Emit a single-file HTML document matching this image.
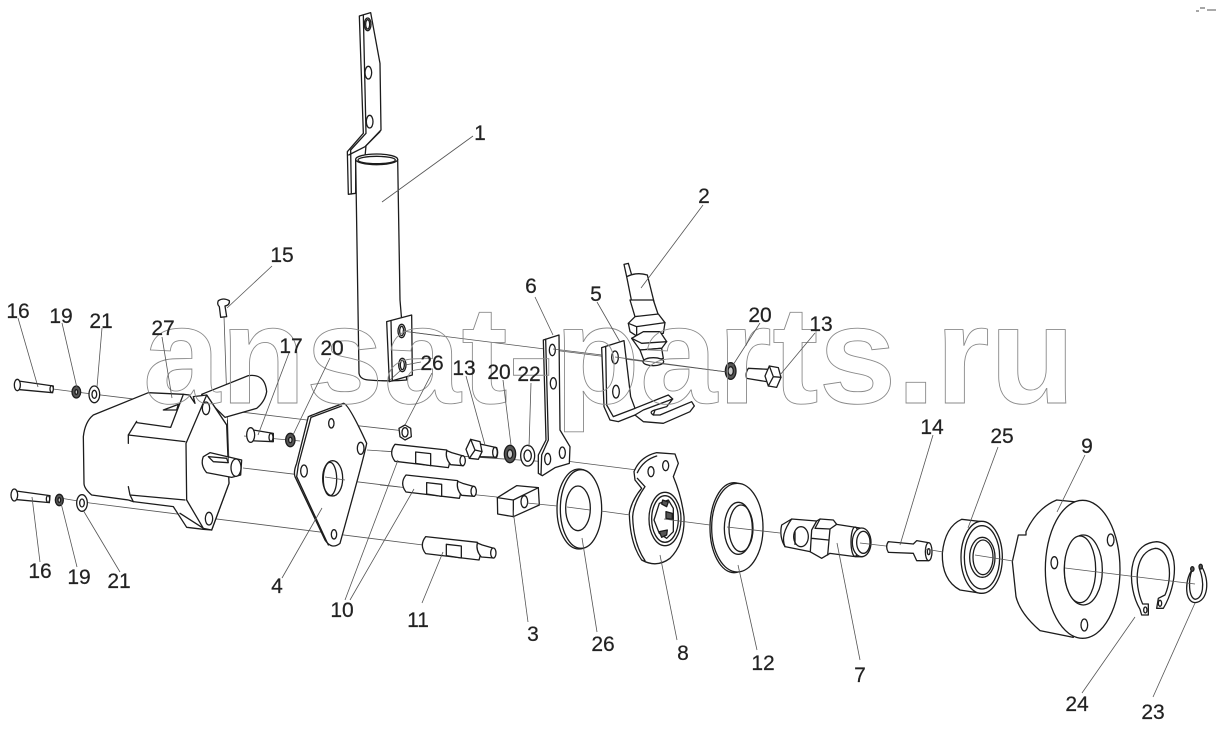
<!DOCTYPE html>
<html><head><meta charset="utf-8"><style>
html,body{margin:0;padding:0;background:#fff;width:1218px;height:729px;overflow:hidden}
svg{display:block}
.p *{vector-effect:non-scaling-stroke}
.p{fill:#fff;stroke:#1c1c1c;stroke-width:1.3;stroke-linejoin:round;stroke-linecap:round}
.n{fill:none}
.d{fill:#555}
.l line{stroke:#555;stroke-width:.8}
text.lb{font-family:"Liberation Sans",sans-serif;font-size:21px;fill:#222;stroke:#222;stroke-width:.2;text-anchor:middle}
</style></head><body>
<svg width="1218" height="729" viewBox="0 0 1218 729" xmlns="http://www.w3.org/2000/svg">
<rect width="1218" height="729" fill="#fff"/>

<!-- axis lines under parts -->
<g class="l">
<line x1="53" y1="389" x2="76" y2="392"/><line x1="76" y1="392" x2="307" y2="420"/><line x1="307" y1="420" x2="405" y2="431"/>
<line x1="243" y1="468" x2="400" y2="487"/><line x1="380" y1="485" x2="497" y2="497"/>
<line x1="60" y1="498" x2="90" y2="503"/><line x1="90" y1="503" x2="423" y2="545"/>
<line x1="224" y1="316" x2="229" y2="462"/>
<line x1="402" y1="331" x2="727" y2="372"/>
<line x1="367" y1="450" x2="550" y2="462"/>
<line x1="550" y1="459" x2="637" y2="470"/>
<line x1="244" y1="436" x2="300" y2="441"/>
</g>

<!-- Zoom 2 region: strip, tube, sensor top -->
<g class="p" transform="translate(330,0) scale(.33333)">
<path d="M88,48 L122,38 L150,190 L153,390 L108,437 L105,470 L77,480 L77,580 L55,583 L52,455 L100,400 Z"/>
<path class="n" d="M100,46 L108,400 L62,450 L64,582"/>
<path class="n" d="M56,465 L105,440 L150,395"/>
<ellipse cx="113" cy="73" rx="10" ry="19"/><ellipse cx="113" cy="73" rx="6" ry="14" class="n"/>
<ellipse cx="115" cy="218" rx="10" ry="19"/>
<ellipse cx="119" cy="365" rx="10" ry="19"/>
<path d="M77,478 L87,1120 Q90,1138 115,1140 Q180,1145 230,1140 L210,900 L203,478 Z"/>
<ellipse cx="140" cy="478" rx="63" ry="16"/><ellipse cx="140" cy="480" rx="56" ry="11"/>
<path d="M882,793 L895,790 L905,825 L890,830 Z"/>
<path d="M890,830 Q920,815 952,825 L972,905 L905,905 Z"/>
</g>

<!-- Zoom 1 region: bolts, motor, plate -->
<g class="p" transform="translate(0,280) scale(.33333)">
<path d="M48,302 L160,318 L158,338 L48,328 Z"/><ellipse cx="52" cy="315" rx="9" ry="17"/><ellipse cx="155" cy="327" rx="5" ry="10"/>
<ellipse cx="229" cy="336" rx="13" ry="18" class="d"/><ellipse cx="229" cy="336" rx="4" ry="7" fill="#ccc"/>
<ellipse cx="283" cy="343" rx="16" ry="25"/><ellipse cx="283" cy="343" rx="7" ry="12"/>
<path d="M40,632 L150,647 L148,668 L40,658 Z"/><ellipse cx="43" cy="645" rx="10" ry="18"/><ellipse cx="144" cy="657" rx="5" ry="10"/>
<ellipse cx="178" cy="660" rx="12" ry="17" class="d"/><ellipse cx="178" cy="660" rx="4" ry="7" fill="#ccc"/>
<ellipse cx="246" cy="669" rx="16" ry="25"/><ellipse cx="246" cy="669" rx="7" ry="12"/>
<!-- rear cylinder -->
<path d="M605,343 L745,287 Q795,280 800,335 Q795,365 770,385 L675,412 Z"/>
<!-- motor body -->
<path d="M250,470 Q255,425 280,405 L445,338 L550,343 L568,345 L585,370 L580,350 L605,347 L620,345 L680,435 L687,610 L635,750 L610,748 L560,742 L520,680 L400,665 L385,660 L275,645 Q252,625 252,610 Z"/>
<path class="n" d="M410,424 L385,465 L385,490"/>
<path class="n" d="M410,428 L512,442 L550,343"/>
<path class="n" d="M385,465 L555,485"/>
<path class="n" d="M385,620 L390,645 L400,665 M390,645 L555,660"/>
<path class="n" d="M540,700 L615,748"/>
<path d="M620,345 L680,435 L687,610 L635,750 L610,745 L560,660 L558,490 Z"/>
<path class="n" d="M490,390 L535,373 L530,390 Z"/>
<ellipse cx="618" cy="385" rx="11" ry="19"/><ellipse cx="627" cy="716" rx="11" ry="19"/>
<path d="M610,530 L630,518 L725,540 L722,585 L695,592 L620,578 Q600,555 610,530 Z"/>
<path class="n" d="M625,530 L680,535 L685,548 L640,545 Z"/>
<ellipse cx="708" cy="563" rx="15" ry="26"/>
<path class="n" d="M682,420 L685,545" stroke-width=".8"/>
<path d="M655,62 Q670,52 688,62 Q690,75 675,78 L680,110 L662,112 L658,80 Q650,72 655,62 Z"/>
<!-- bolt 17 -->
<path d="M748,448 L820,460 L820,485 L748,482 Z"/><ellipse cx="752" cy="465" rx="12" ry="22"/><ellipse cx="813" cy="472" rx="6" ry="12"/>
<ellipse cx="871" cy="480" rx="14" ry="20" class="d"/><ellipse cx="871" cy="480" rx="5" ry="8" fill="#ccc"/>
<!-- plate 4 -->
<path d="M925,410 Q935,405 1030,370 Q1045,370 1100,490 Q1095,520 1020,790 Q995,810 975,780 L885,590 Q880,575 890,550 Z"/>
<path class="n" d="M933,412 L1025,378 M933,412 L895,555 L890,590 L985,795"/>
<ellipse cx="994" cy="430" rx="8" ry="14"/><ellipse cx="1082" cy="505" rx="10" ry="18"/><ellipse cx="912" cy="573" rx="10" ry="18"/><ellipse cx="1002" cy="763" rx="8" ry="14"/>
<ellipse cx="998" cy="595" rx="30" ry="53"/><ellipse cx="990" cy="597" rx="20" ry="50" class="n"/>
</g>

<!-- Zoom 3 region -->
<g class="p" transform="translate(380,300) scale(.33333)">
<!-- plate on tube -->
<path d="M20,65 L95,45 L97,225 L28,245 Z"/><path class="n" d="M33,62 L37,243"/>
<ellipse cx="65" cy="93" rx="11" ry="20"/><ellipse cx="65" cy="93" rx="6" ry="14" class="n"/>
<ellipse cx="67" cy="195" rx="11" ry="20"/><ellipse cx="67" cy="195" rx="6" ry="14" class="n"/>
<!-- nut 26 -->
<path d="M75,375 L92,385 L94,410 L75,420 L60,410 L57,385 Z"/><ellipse cx="75" cy="397" rx="9" ry="14"/>
<!-- pins -->
<g><path d="M45,433 L200,450 Q215,475 205,503 L45,484 Q25,458 45,433 Z"/><path d="M200,452 L215,458 L250,468 Q258,482 250,497 L212,494 Q195,475 200,452 Z"/><ellipse cx="248" cy="482" rx="8" ry="15"/><path d="M107,456 L152,461 L152,497 L107,490 Z"/></g>
<g transform="translate(33,92)"><path d="M45,433 L200,450 Q215,475 205,503 L45,484 Q25,458 45,433 Z"/><path d="M200,452 L215,458 L250,468 Q258,482 250,497 L212,494 Q195,475 200,452 Z"/><ellipse cx="248" cy="482" rx="8" ry="15"/><path d="M107,456 L152,461 L152,497 L107,490 Z"/></g>
<g transform="translate(92,277)"><path d="M45,433 L200,450 Q215,475 205,503 L45,484 Q25,458 45,433 Z"/><path d="M200,452 L215,458 L250,468 Q258,482 250,497 L212,494 Q195,475 200,452 Z"/><ellipse cx="248" cy="482" rx="8" ry="15"/><path d="M107,456 L152,461 L152,497 L107,490 Z"/></g>
<!-- bolt 13 -->
<path d="M300,432 L350,443 Q356,458 350,472 L300,470 Z"/><ellipse cx="345" cy="457" rx="7" ry="15"/>
<path d="M272,418 L300,425 L306,455 L295,478 L268,475 L258,448 Z"/><path class="n" d="M272,418 L285,450 L268,475 M285,450 L306,455"/>
<ellipse cx="390" cy="462" rx="17" ry="26" class="d"/><ellipse cx="390" cy="462" rx="8" ry="13" fill="#ccc"/>
<ellipse cx="443" cy="467" rx="21" ry="31"/><ellipse cx="443" cy="467" rx="11" ry="17"/>
<!-- part 6 -->
<path d="M490,120 L537,105 L540,390 L570,440 L568,490 L525,503 L487,527 L475,520 L475,465 L498,420 Z"/>
<path class="n" d="M497,118 L505,420 L485,465 L483,525"/>
<ellipse cx="517" cy="150" rx="9" ry="17"/><ellipse cx="520" cy="250" rx="9" ry="17"/><ellipse cx="503" cy="477" rx="9" ry="17"/><ellipse cx="547" cy="458" rx="9" ry="17"/>
<!-- sensor -->
<path d="M750,0 L765,50 L835,45 L820,0 Z"/>
<path d="M745,70 L765,50 L835,42 L855,68 L850,100 L770,108 L750,95 Z"/><path class="n" d="M745,70 L770,80 L855,68 M770,80 L770,108"/>
<path d="M755,115 L790,95 L840,95 L860,125 L845,145 L780,150 Z"/><path class="n" d="M755,115 L785,130 L860,125"/>
<path d="M780,150 L795,190 L850,175 L845,145 Z"/><ellipse cx="820" cy="185" rx="31" ry="12"/>
<!-- bracket 5 -->
<path d="M665,143 L732,122 L752,290 L765,325 L865,285 L878,297 L860,320 L825,330 L820,345 L840,345 L935,305 L943,318 L930,335 L850,370 L790,365 L765,345 L715,365 L690,360 L672,320 Z"/>
<path class="n" d="M677,141 L680,315 L700,350 L765,325 M765,345 L790,330 L878,297 M820,345 Q805,335 825,330"/>
<ellipse cx="705" cy="172" rx="10" ry="19"/><ellipse cx="708" cy="275" rx="10" ry="19"/>
<!-- nut and bolt right -->
<ellipse cx="1052" cy="213" rx="16" ry="25" class="d"/><ellipse cx="1052" cy="213" rx="8" ry="13" fill="#ccc"/>
<path d="M1105,205 L1165,208 L1160,245 L1100,235 Q1095,220 1105,205 Z"/>
<path d="M1168,198 L1195,203 L1203,232 L1190,262 L1165,258 L1155,228 Z"/><path class="n" d="M1168,198 L1180,230 L1165,258 M1180,230 L1203,232"/>
<!-- block 3 -->
<path d="M352,593 L410,557 L475,563 L478,615 L400,650 L353,642 Z"/>
<path class="n" d="M352,593 L400,600 L475,563 M400,600 L400,650"/>
<ellipse cx="433" cy="605" rx="10" ry="18"/>
<!-- washer 26 -->
<ellipse cx="597" cy="627" rx="66" ry="120"/><ellipse cx="603" cy="627" rx="62" ry="118"/>
<ellipse cx="594" cy="625" rx="37" ry="67"/>
<!-- part 8 -->
<path d="M762,515 Q780,470 830,458 L885,462 L895,490 L880,530 Q905,590 912,650 Q915,730 870,775 Q830,805 785,780 Q750,730 748,640 Q755,600 785,565 L765,540 Z"/>
<path class="n" d="M772,518 Q790,480 830,468 M795,560 L772,535 M795,560 Q760,610 758,650 Q760,730 795,782"/>
<ellipse cx="813" cy="515" rx="9" ry="15"/><ellipse cx="857" cy="497" rx="9" ry="15"/>
<ellipse cx="855" cy="657" rx="48" ry="80"/><ellipse cx="855" cy="657" rx="40" ry="70"/>
<path d="M838,610 L865,600 L880,625 L880,695 L860,715 L838,700 L822,660 Z"/>
<path class="d" fill="#777" d="M848,600 L865,606 L860,620 L845,612 Z M858,635 L877,640 L877,658 L858,655 Z M838,695 L862,690 L860,705 L845,712 Z"/>
<!-- washer 12 -->
<ellipse cx="1062" cy="683" rx="72" ry="135"/><ellipse cx="1072" cy="683" rx="77" ry="133"/>
<ellipse cx="1075" cy="685" rx="42" ry="78"/><ellipse cx="1083" cy="685" rx="36" ry="70" class="n"/>
</g>

<!-- part 7 -->
<g class="p" transform="translate(775,505) scale(.33333)">
<path d="M20,60 L50,42 L125,48 L135,42 L175,45 L185,58 L262,70 L262,155 L240,155 L165,145 L140,160 L105,140 L30,125 Q12,95 20,60 Z"/>
<path class="n" d="M30,125 Q15,90 50,42 M125,48 L110,75 L106,140 M135,42 L120,70 L165,72 L185,58 M165,72 L158,150 M110,100 L160,105"/>
<ellipse cx="78" cy="95" rx="22" ry="30"/><path class="n" d="M60,80 L60,118"/>
<ellipse cx="240" cy="110" rx="12" ry="44" class="n"/><ellipse cx="260" cy="112" rx="28" ry="43"/><ellipse cx="265" cy="112" rx="20" ry="33"/>
</g>

<!-- Zoom 4 region -->
<g class="p" transform="translate(780,420) scale(.33333)">
<!-- screw 14 -->
<path d="M325,365 L400,372 L410,362 L445,368 L445,422 L410,422 L400,400 L325,397 Q315,380 325,365 Z"/>
<ellipse cx="446" cy="395" rx="10" ry="27"/><ellipse cx="446" cy="395" rx="4" ry="9"/>
<!-- bearing 25 -->
<path d="M545,298 L605,305 L605,520 L540,510 Q485,480 487,400 Q495,320 545,298 Z"/>
<ellipse cx="605" cy="412" rx="62" ry="108"/><ellipse cx="606" cy="412" rx="53" ry="95"/>
<ellipse cx="607" cy="412" rx="38" ry="60"/><ellipse cx="609" cy="412" rx="30" ry="52"/>
<!-- part 9 -->
<path d="M738,345 L738,335 Q770,265 830,240 L930,250 L880,652 L780,632 Q720,580 708,530 L697,425 L715,345 Z"/>
<ellipse cx="908" cy="448" rx="112" ry="207"/>
<ellipse cx="910" cy="450" rx="57" ry="105"/><ellipse cx="900" cy="448" rx="47" ry="100"/>
<ellipse cx="992" cy="360" rx="10" ry="18"/><ellipse cx="823" cy="428" rx="10" ry="18"/><ellipse cx="913" cy="615" rx="10" ry="18"/>
<!-- ring 24 -->
<path d="M1080,568 C1040,500 1040,370 1130,365 C1200,370 1195,490 1150,565 L1130,565 L1135,535 L1155,525 C1180,470 1170,385 1125,385 C1065,395 1060,490 1088,552 L1105,552 L1105,585 L1085,585 Z" />
<ellipse cx="1096" cy="570" rx="5" ry="9"/><ellipse cx="1140" cy="550" rx="5" ry="9"/>
<!-- ring 23 -->
<path class="n" d="M1240,445 C1215,470 1210,545 1245,548 C1285,545 1290,480 1265,440 M1236,450 C1225,480 1225,530 1245,538 C1270,535 1275,490 1258,445"/>
<ellipse cx="1237" cy="447" rx="5" ry="7" fill="#555"/><ellipse cx="1262" cy="440" rx="5" ry="7" fill="#555"/>
</g>

<!-- axis lines on top (through holes) -->
<g class="l">
<line x1="527" y1="503" x2="557" y2="506"/><line x1="567" y1="507" x2="590" y2="510"/><line x1="601" y1="511" x2="630" y2="515"/>
<line x1="664" y1="519" x2="710" y2="525"/><line x1="727" y1="527" x2="780" y2="533"/><line x1="860" y1="543" x2="886" y2="546"/>
<line x1="925" y1="549" x2="943" y2="552"/><line x1="975" y1="555" x2="1013" y2="561"/><line x1="1065" y1="568" x2="1195" y2="584"/>
<line x1="402" y1="331" x2="440" y2="336"/>
<line x1="553" y1="349" x2="602" y2="355"/><line x1="615" y1="357" x2="727" y2="372"/>
<line x1="325" y1="477" x2="345" y2="480"/>
</g>

<!-- watermark -->
<text x="143" y="403" font-family="Liberation Sans, sans-serif" font-weight="bold" font-size="139" fill="none" stroke="#8a8a8a" stroke-width=".9" textLength="932" lengthAdjust="spacing">ansat-parts.ru</text>

<!-- leaders -->
<g class="l">
<line x1="473" y1="136" x2="382" y2="202"/><line x1="703" y1="205" x2="641" y2="288"/><line x1="272" y1="266" x2="227" y2="308"/>
<line x1="535" y1="297" x2="553" y2="335"/><line x1="597" y1="302" x2="620" y2="342"/>
<line x1="18" y1="318" x2="38" y2="387"/><line x1="62" y1="323" x2="77" y2="388"/><line x1="102" y1="328" x2="97" y2="387"/>
<line x1="162" y1="337" x2="172" y2="398"/><line x1="289" y1="353" x2="258" y2="435"/><line x1="330" y1="358" x2="293" y2="435"/>
<line x1="432" y1="373" x2="405" y2="425"/><line x1="421" y1="362" x2="405" y2="365"/><line x1="400" y1="371" x2="390" y2="380"/>
<line x1="466" y1="376" x2="485" y2="445"/><line x1="503" y1="380" x2="511" y2="445"/><line x1="531" y1="383" x2="529" y2="447"/>
<line x1="760" y1="323" x2="733" y2="365"/><line x1="815" y1="333" x2="780" y2="375"/>
<line x1="933" y1="435" x2="900" y2="545"/><line x1="998" y1="447" x2="968" y2="528"/><line x1="1085" y1="455" x2="1057" y2="512"/>
<line x1="32" y1="497" x2="40" y2="562"/><line x1="61" y1="503" x2="77" y2="567"/><line x1="83" y1="510" x2="120" y2="572"/>
<line x1="322" y1="508" x2="282" y2="578"/><line x1="345" y1="600" x2="398" y2="460"/><line x1="350" y1="600" x2="414" y2="489"/>
<line x1="443" y1="552" x2="422" y2="603"/><line x1="513" y1="510" x2="528" y2="622"/><line x1="582" y1="538" x2="597" y2="632"/>
<line x1="660" y1="555" x2="677" y2="640"/><line x1="738" y1="565" x2="757" y2="650"/><line x1="837" y1="543" x2="860" y2="660"/>
<line x1="1135" y1="617" x2="1082" y2="693"/><line x1="1195" y1="603" x2="1153" y2="697"/>
</g>

<!-- labels -->
<g>
<text class="lb" x="480" y="140">1</text><text class="lb" x="704" y="203">2</text><text class="lb" x="282" y="262">15</text>
<text class="lb" x="531" y="293">6</text><text class="lb" x="596" y="301">5</text><text class="lb" x="18" y="318">16</text>
<text class="lb" x="61" y="323">19</text><text class="lb" x="101" y="328">21</text><text class="lb" x="163" y="335">27</text>
<text class="lb" x="291" y="353">17</text><text class="lb" x="332" y="355">20</text><text class="lb" x="432" y="370">26</text>
<text class="lb" x="464" y="375">13</text><text class="lb" x="499" y="379">20</text><text class="lb" x="529" y="381">22</text>
<text class="lb" x="760" y="322">20</text><text class="lb" x="821" y="331">13</text><text class="lb" x="932" y="434">14</text>
<text class="lb" x="1002" y="443">25</text><text class="lb" x="1087" y="453">9</text><text class="lb" x="40" y="578">16</text>
<text class="lb" x="79" y="584">19</text><text class="lb" x="119" y="588">21</text><text class="lb" x="277" y="593">4</text>
<text class="lb" x="342" y="617">10</text><text class="lb" x="418" y="627">11</text><text class="lb" x="533" y="641">3</text>
<text class="lb" x="603" y="651">26</text><text class="lb" x="683" y="660">8</text><text class="lb" x="763" y="670">12</text>
<text class="lb" x="860" y="682">7</text><text class="lb" x="1077" y="711">24</text><text class="lb" x="1153" y="719">23</text>
</g>

<!-- corner mark -->
<path d="M1196,11 h3 M1200,8 h5" stroke="#888" stroke-width="1.5" fill="none"/>
<path d="M1207,10 h9" stroke="#aaa" stroke-width="2" fill="none"/>
</svg>
</body></html>
